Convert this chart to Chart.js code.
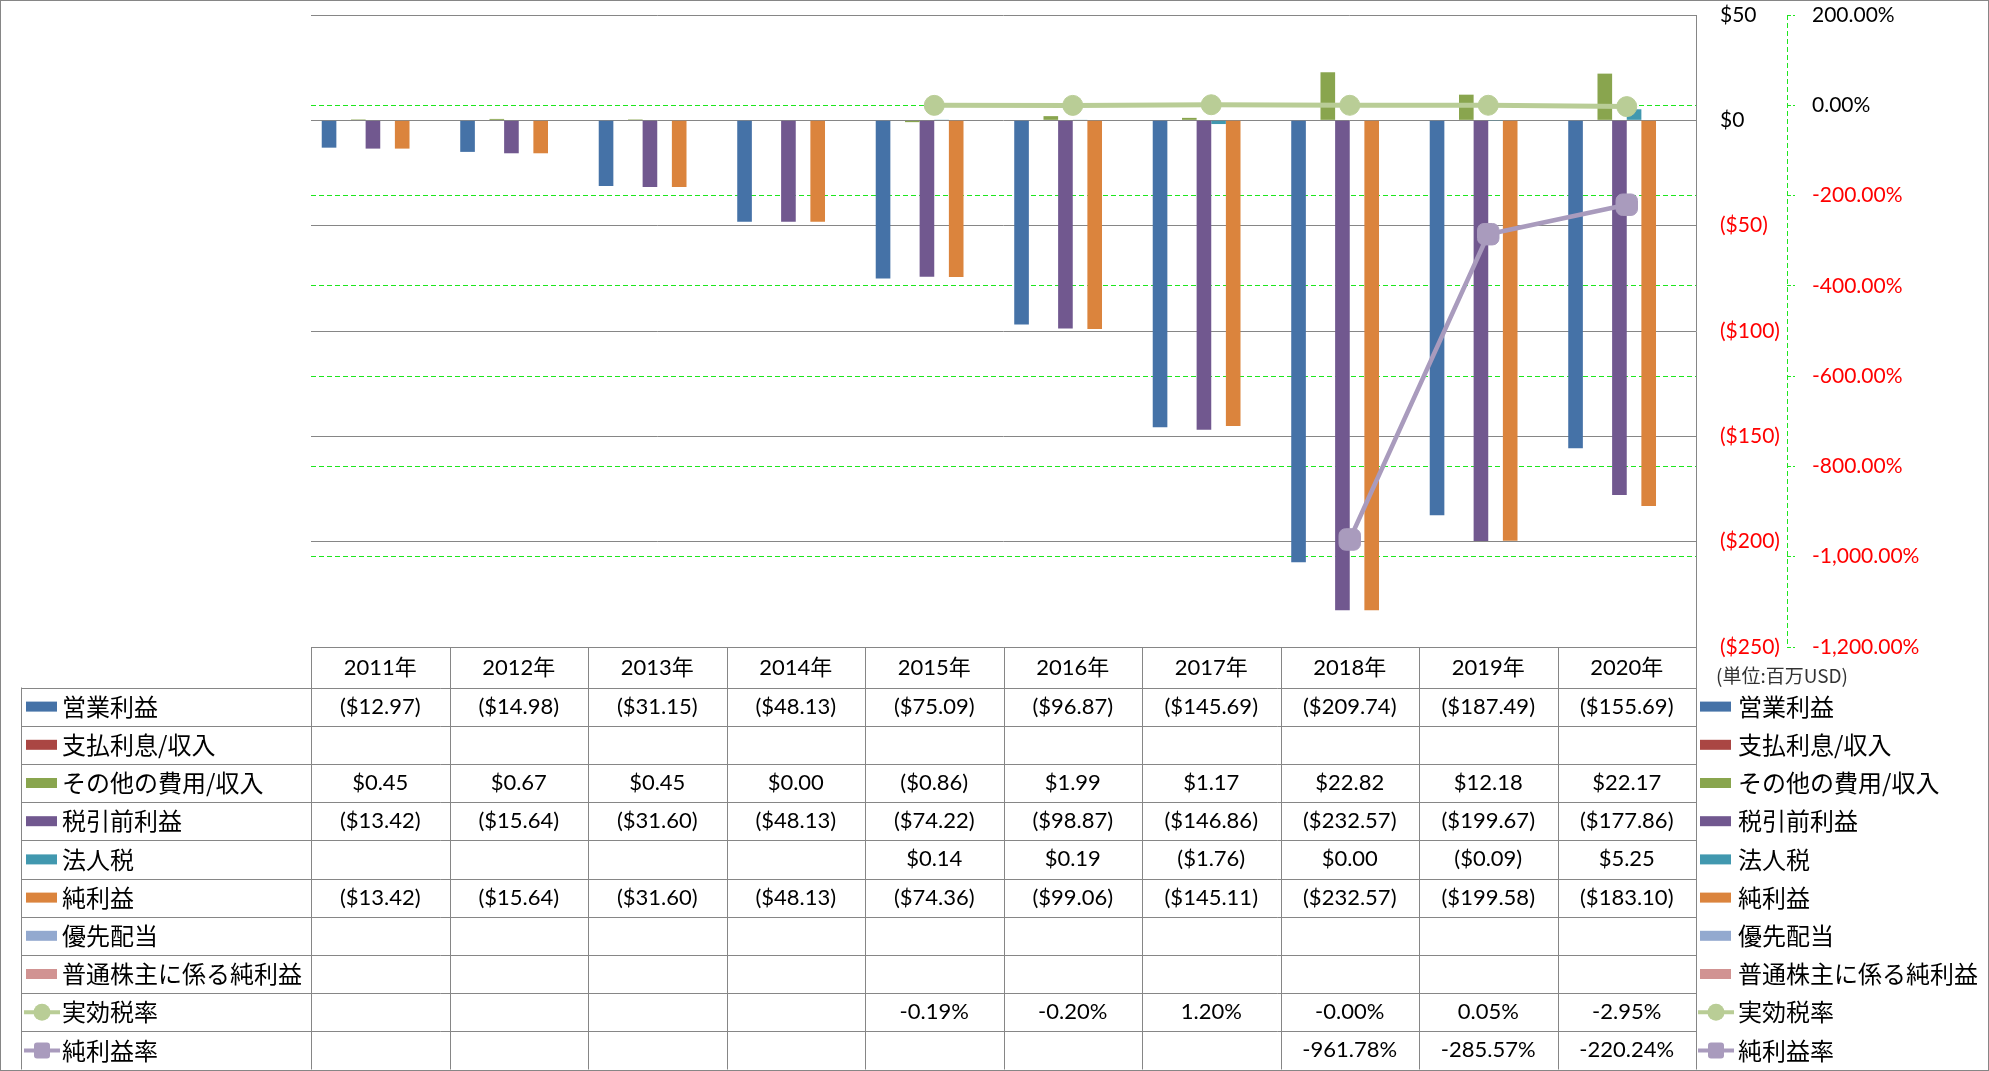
<!DOCTYPE html>
<html>
<head>
<meta charset="utf-8">
<script src="https://cdn.jsdelivr.net/npm/chart.js@4.4.0/dist/chart.umd.min.js"></script>
<style>
  html, body { margin: 0; padding: 0; background: #fff; }
  #wrap { width: 1989px; height: 1071px; position: relative; }
</style>
</head>
<body>
<div id="wrap"><canvas id="chart"></canvas></div>
<script>
const years = ['2011年', '2012年', '2013年', '2014年', '2015年', '2016年', '2017年', '2018年', '2019年', '2020年'];

// 単位: 百万USD
const operatingIncome = [-12.97, -14.98, -31.15, -48.13, -75.09, -96.87, -145.69, -209.74, -187.49, -155.69];
const interestExpense = [null, null, null, null, null, null, null, null, null, null];
const otherIncome = [0.45, 0.67, 0.45, 0.00, -0.86, 1.99, 1.17, 22.82, 12.18, 22.17];
const pretaxIncome = [-13.42, -15.64, -31.60, -48.13, -74.22, -98.87, -146.86, -232.57, -199.67, -177.86];
const incomeTax = [null, null, null, null, 0.14, 0.19, -1.76, 0.00, -0.09, 5.25];
const netIncome = [-13.42, -15.64, -31.60, -48.13, -74.36, -99.06, -145.11, -232.57, -199.58, -183.10];
const preferredDividends = [null, null, null, null, null, null, null, null, null, null];
const netIncomeCommon = [null, null, null, null, null, null, null, null, null, null];

// %
const effectiveTaxRate = [null, null, null, null, -0.19, -0.20, 1.20, -0.001, 0.05, -2.95];
const netMargin = [null, null, null, null, null, null, null, -961.78, -285.57, -220.24];

const usdTicks = { min: -250, max: 50, step: 50 };
const pctTicks = { min: -1200, max: 200, step: 200 };

const GRID_GREY = '#868686';
const GREEN = '#1ee61e';

function fmtUsd(v) {
    if (v === null || v === undefined) return '';
    const s = '$' + Math.abs(v).toFixed(2);
    return v < 0 ? '(' + s + ')' : s;
}
function fmtPct(v) {
    if (v === null || v === undefined) return '';
    return v.toFixed(2) + '%';
}

const rows = [
    { label: '営業利益', data: operatingIncome, color: '#4572A7', kind: 'bar', fmt: fmtUsd },
    { label: '支払利息/収入', data: interestExpense, color: '#AA4643', kind: 'bar', fmt: fmtUsd },
    { label: 'その他の費用/収入', data: otherIncome, color: '#89A54E', kind: 'bar', fmt: fmtUsd },
    { label: '税引前利益', data: pretaxIncome, color: '#71588F', kind: 'bar', fmt: fmtUsd },
    { label: '法人税', data: incomeTax, color: '#4198AF', kind: 'bar', fmt: fmtUsd },
    { label: '純利益', data: netIncome, color: '#DB843D', kind: 'bar', fmt: fmtUsd },
    { label: '優先配当', data: preferredDividends, color: '#93A9CF', kind: 'bar', fmt: fmtUsd },
    { label: '普通株主に係る純利益', data: netIncomeCommon, color: '#D19392', kind: 'bar', fmt: fmtUsd },
    { label: '実効税率', data: effectiveTaxRate, color: '#B9CD96', kind: 'circle', fmt: fmtPct },
    { label: '純利益率', data: netMargin, color: '#A99BBD', kind: 'square', fmt: fmtPct }
];

const datasets = rows.map(r => {
    if (r.kind === 'bar') {
        return {
            type: 'bar',
            label: r.label,
            data: r.data,
            backgroundColor: r.color,
            borderWidth: 0,
            yAxisID: 'y',
            categoryPercentage: 0.845,
            barPercentage: 1.0,
            order: 2
        };
    }
    return {
        type: 'line',
        label: r.label,
        data: r.data,
        borderColor: r.color,
        backgroundColor: r.color,
        borderWidth: r.kind === 'circle' ? 5 : 4.5,
        pointStyle: r.kind === 'circle' ? 'circle' : 'rectRounded',
        pointRadius: r.kind === 'circle' ? 10 : 12.5,
        pointBackgroundColor: r.color,
        pointBorderColor: r.color,
        pointBorderWidth: 1,
        yAxisID: 'y2',
        tension: 0,
        order: 1
    };
});

function drawKey(ctx, r, x, cy) {
    ctx.save();
    if (r.kind === 'bar') {
        ctx.fillStyle = r.color;
        ctx.fillRect(x, cy - 5, 31, 10);
    } else {
        ctx.strokeStyle = r.color;
        ctx.lineWidth = 4;
        ctx.beginPath();
        ctx.moveTo(x - 2, cy);
        ctx.lineTo(x + 34, cy);
        ctx.stroke();
        ctx.fillStyle = r.color;
        if (r.kind === 'circle') {
            ctx.beginPath();
            ctx.arc(x + 16, cy, 8.5, 0, Math.PI * 2);
            ctx.fill();
        } else {
            ctx.beginPath();
            ctx.roundRect(x + 8, cy - 8, 16, 16, 3);
            ctx.fill();
        }
    }
    ctx.restore();
}

const tablePlugin = {
    id: 'dataTable',
    afterDraw(chart) {
        const ctx = chart.ctx;
        const area = chart.chartArea;
        const n = years.length;
        const colW = (area.right - area.left) / n;
        const headTop = Math.round(area.bottom) + 0.5;
        const rowTop = headTop + 40;
        const rowH = 38.2;
        const tableBottom = rowTop + rowH * rows.length;
        const legLeft = 21.5;

        ctx.save();

        // dashed secondary axis line
        const y2 = chart.scales.y2;
        ctx.strokeStyle = GREEN;
        ctx.lineWidth = 1;
        ctx.setLineDash([5, 3]);
        ctx.beginPath();
        ctx.moveTo(Math.round(y2.left) + 0.5, area.top);
        ctx.lineTo(Math.round(y2.left) + 0.5, area.bottom);
        ctx.stroke();
        ctx.setLineDash([]);

        // table grid
        ctx.strokeStyle = GRID_GREY;
        ctx.lineWidth = 1;
        ctx.beginPath();
        ctx.moveTo(area.left, headTop);
        ctx.lineTo(area.right, headTop);
        for (let k = 0; k <= rows.length; k++) {
            const y = Math.round(rowTop + k * rowH) + 0.5;
            ctx.moveTo(legLeft, y);
            ctx.lineTo(Math.round(area.right) + 0.5, y);
        }
        for (let i = 0; i <= n; i++) {
            const x = Math.round(area.left + i * colW) + 0.5;
            ctx.moveTo(x, headTop);
            ctx.lineTo(x, tableBottom);
        }
        ctx.moveTo(legLeft, rowTop);
        ctx.lineTo(legLeft, tableBottom);
        ctx.stroke();

        // header
        ctx.fillStyle = '#000';
        ctx.textAlign = 'center';
        ctx.textBaseline = 'middle';
        ctx.font = '22px Lato, "Noto Sans CJK JP"';
        const xs = chart.scales.x;
        years.forEach((yr, i) => {
            ctx.fillText(yr, xs.getPixelForValue(i), headTop + 20);
        });

        // values
        rows.forEach((r, k) => {
            const cy = rowTop + k * rowH + rowH / 2;
            r.data.forEach((v, i) => {
                const t = r.fmt(v);
                if (t) ctx.fillText(t, xs.getPixelForValue(i), cy);
            });
        });

        // legends (left column and right side)
        ctx.textAlign = 'left';
        ctx.font = '24px "Noto Sans CJK JP"';
        const rightX = Math.round(area.right) + 4;
        rows.forEach((r, k) => {
            const cy = rowTop + k * rowH + rowH / 2;
            drawKey(ctx, r, 26, cy);
            ctx.fillStyle = '#000';
            ctx.fillText(r.label, 62, cy);
            drawKey(ctx, r, rightX, cy);
            ctx.fillStyle = '#000';
            ctx.fillText(r.label, rightX + 38, cy);
        });

        // unit note
        ctx.font = '19px "Noto Sans CJK JP"';
        ctx.fillStyle = '#333';
        ctx.fillText('(単位:百万USD)', Math.round(area.right) + 20, headTop + 28);

        // outer frame
        ctx.strokeStyle = GRID_GREY;
        ctx.strokeRect(0.5, 0.5, chart.width - 1, chart.height - 1);
        ctx.restore();
    }
};

Chart.defaults.font.family = 'Lato';

// keep the plot area at the layout padding, not the label padding
function fixAxis(width) {
    return s => {
        s.width = width;
        s.paddingTop = 0;
        s.paddingBottom = 0;
    };
}

new Chart(document.getElementById('chart'), {
    type: 'bar',
    data: { labels: years, datasets: datasets },
    options: {
        responsive: true,
        maintainAspectRatio: false,
        animation: false,
        layout: { padding: { left: 311, right: 0, top: 15, bottom: 424 } },
        plugins: {
            legend: { display: false },
            tooltip: { enabled: false }
        },
        scales: {
            x: {
                type: 'category',
                display: false,
                offset: true
            },
            y: {
                position: 'right',
                min: usdTicks.min,
                max: usdTicks.max,
                afterFit: fixAxis(91),
                grid: { color: GRID_GREY, drawTicks: false },
                border: { display: true, color: GRID_GREY, width: 1 },
                ticks: {
                    stepSize: usdTicks.step,
                    padding: 24,
                    font: { size: 21, family: 'Lato' },
                    color: c => c.tick.value < 0 ? '#ff0000' : '#000000',
                    callback: v => v < 0 ? '($' + Math.abs(v) + ')' : '$' + v
                }
            },
            y2: {
                position: 'right',
                min: pctTicks.min,
                max: pctTicks.max,
                afterFit: fixAxis(202),
                grid: {
                    color: c => (c.tick && (c.tick.value === pctTicks.max || c.tick.value === pctTicks.min)) ? 'rgba(0,0,0,0)' : GREEN,
                    tickColor: GREEN,
                    drawTicks: true,
                    tickLength: 8,
                    tickBorderDash: [4, 2]
                },
                border: { display: false, dash: [5, 3] },
                ticks: {
                    stepSize: pctTicks.step,
                    padding: 17,
                    font: { size: 21, family: 'Lato' },
                    color: c => c.tick.value < 0 ? '#ff0000' : '#000000',
                    callback: v => v.toLocaleString('en-US', { minimumFractionDigits: 2, maximumFractionDigits: 2 }) + '%'
                }
            }
        }
    },
    plugins: [tablePlugin]
});
</script>
</body>
</html>
